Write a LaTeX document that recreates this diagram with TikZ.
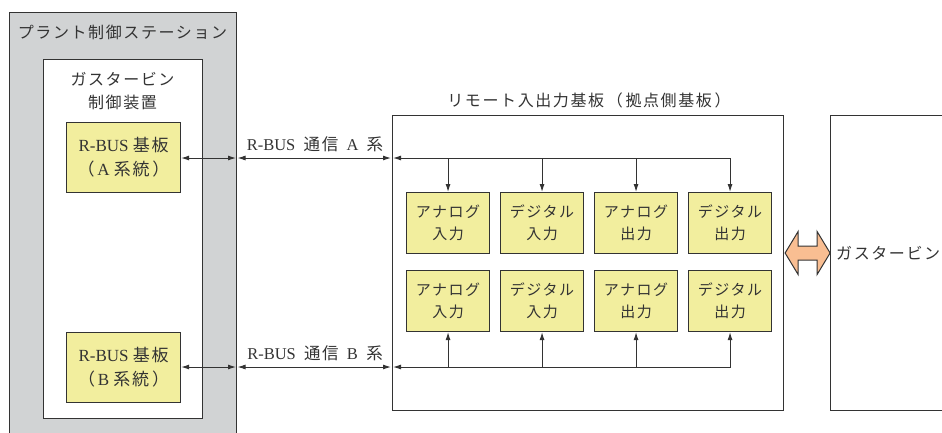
\documentclass[tikz,border=0pt]{standalone}
\usepackage{fontspec}
\setmainfont{Liberation Serif}
\newfontfamily\jp{Noto Sans CJK JP}[LetterSpace=10]
\usetikzlibrary{arrows.meta}
\definecolor{lc}{HTML}{333333}
\definecolor{grayfill}{HTML}{D1D3D4}
\definecolor{yel}{HTML}{F2EE9E}
\definecolor{org}{HTML}{F9BE92}
\begin{document}
\begin{tikzpicture}[x=1pt,y=-1pt,
  font=\fontsize{16}{23}\selectfont, text=lc,
  box/.style={draw=lc, line width=1.1pt, inner sep=0pt, anchor=north west},
  modbox/.style={box, fill=yel, minimum width=83pt, minimum height=61pt, align=center,
     font=\jp\fontsize{15}{22}\selectfont},
  rbbox/.style={box, fill=yel, minimum width=114pt, minimum height=70pt, align=center,
     font=\fontsize{17}{24}\selectfont},
  lbl/.style={inner sep=0pt, align=center, font=\jp\fontsize{16}{23}\selectfont},
  buslbl/.style={inner sep=0pt, font=\fontsize{16.5}{23}\selectfont},
  conn/.style={draw=lc, line width=1pt},
  arw/.style={-{Latex[length=8pt,width=5pt]}},
  darw/.style={{Latex[length=8pt,width=5pt]}-{Latex[length=8pt,width=5pt]}}
]
\useasboundingbox (0,0) rectangle (942,432);
\clip (0,0) rectangle (942,432);

% station
\node[box, fill=grayfill, minimum width=227pt, minimum height=445pt] (station) at (9,12) {};
\node[lbl] (sttitle) at (122.5,32) {プラント制御ステーション};
\node[box, fill=white, minimum width=159pt, minimum height=359pt] (inner) at (43,59) {};
\node[lbl] (gtc) at (122.5,91.5) {ガスタービン\\制御装置};
\node[rbbox] (rbA) at (66,122) {R-BUS\ {\jp 基板}\\{\jp （}\,A\ {\jp 系統}\,{\jp ）}};
\node[rbbox] (rbB) at (66,332) {R-BUS\ {\jp 基板}\\{\jp （}\,B\ {\jp 系統}\,{\jp ）}};

% remote board
\node[box, minimum width=391pt, minimum height=295pt] (remote) at (392,115) {};
\node[lbl] (remtitle) at (589,100) {リモート入出力基板\,（\,拠点側基板\,）};

% modules
\node[modbox] (mA1) at (406,192) {アナログ\\入力};
\node[modbox] (mA2) at (500,192) {デジタル\\入力};
\node[modbox] (mA3) at (594,192) {アナログ\\出力};
\node[modbox] (mA4) at (688,192) {デジタル\\出力};
\node[modbox] (mB1) at (406,270) {アナログ\\入力};
\node[modbox] (mB2) at (500,270) {デジタル\\入力};
\node[modbox] (mB3) at (594,270) {アナログ\\出力};
\node[modbox] (mB4) at (688,270) {デジタル\\出力};

% turbine box
\node[box, minimum width=140pt, minimum height=295pt] (turb) at (830,115) {};
\node[lbl, anchor=west] (turbtext) at (836,253) {ガスタービン};

% bus coordinates
\coordinate (aS) at (236,158);
\coordinate (aL) at (393,158);
\coordinate (bS) at (236,367);
\coordinate (bL) at (393,367);

% A system
\draw[conn, darw] (rbA.east |- aS) -- (aS);
\draw[conn, darw] ([xshift=1.5pt]aS) -- ([xshift=-2pt]aL);
\draw[conn, darw] (aL) -| (mA4.north);
\draw[conn, arw] (mA1.north |- aL) -- (mA1.north);
\draw[conn, arw] (mA2.north |- aL) -- (mA2.north);
\draw[conn, arw] (mA3.north |- aL) -- (mA3.north);
\node[buslbl] (labA) at (315,144) {R-BUS\ \ {\jp 通信}\ \ A\ \ {\jp 系}};

% B system
\draw[conn, darw] (rbB.east |- bS) -- (bS);
\draw[conn, darw] ([xshift=1.5pt]bS) -- ([xshift=-2pt]bL);
\draw[conn, darw] (bL) -| (mB4.south);
\draw[conn, arw] (mB1.south |- bL) -- (mB1.south);
\draw[conn, arw] (mB2.south |- bL) -- (mB2.south);
\draw[conn, arw] (mB3.south |- bL) -- (mB3.south);
\node[buslbl] (labB) at (315,353) {R-BUS\ \ {\jp 通信}\ \ B\ \ {\jp 系}};

% orange double arrow between remote and turbine
\coordinate (oa) at (remote.east |- turbtext);
\draw[draw=lc, line width=1pt, fill=org, line join=miter]
  ([xshift=1pt]oa) -- ++(13,-21.5) -- ++(0,14.5) -- ++(19,0) -- ++(0,-14.5)
  -- ++(13,21.5) -- ++(-13,21.5) -- ++(0,-14.5) -- ++(-19,0) -- ++(0,14.5) -- cycle;
\end{tikzpicture}
\end{document}
